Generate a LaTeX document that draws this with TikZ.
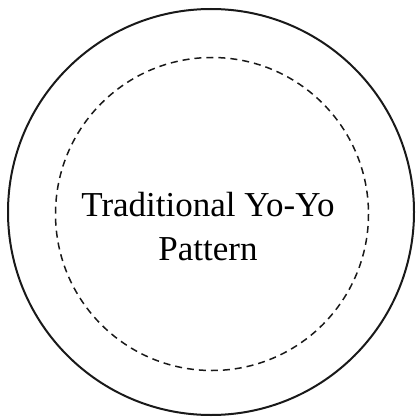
\documentclass[tikz,border=0pt]{standalone}
\usepackage{fontspec}
\setmainfont{Liberation Serif}

\begin{document}
\begin{tikzpicture}[x=1pt, y=-1pt,
    borde/.style={line width=2pt, color=black!90},
    costura/.style={dashed, dash pattern=on 7pt off 5pt, line width=1.5pt, color=black!90},
    rotulo/.style={align=center, font=\fontsize{35}{44}\selectfont, inner sep=0pt}]

  % Marco de la figura
  \useasboundingbox (0, 0) rectangle (415, 417);

  % Circulo exterior (linea de corte)
  \draw[borde] (211, 212) circle (203);

  % Circulo interior (linea de costura punteada)
  \draw[costura] (212, 214) circle (156.5);

  % Texto central
  \node[rotulo] (titulo) at (208, 227) {Traditional Yo-Yo\\Pattern};

\end{tikzpicture}
\end{document}
